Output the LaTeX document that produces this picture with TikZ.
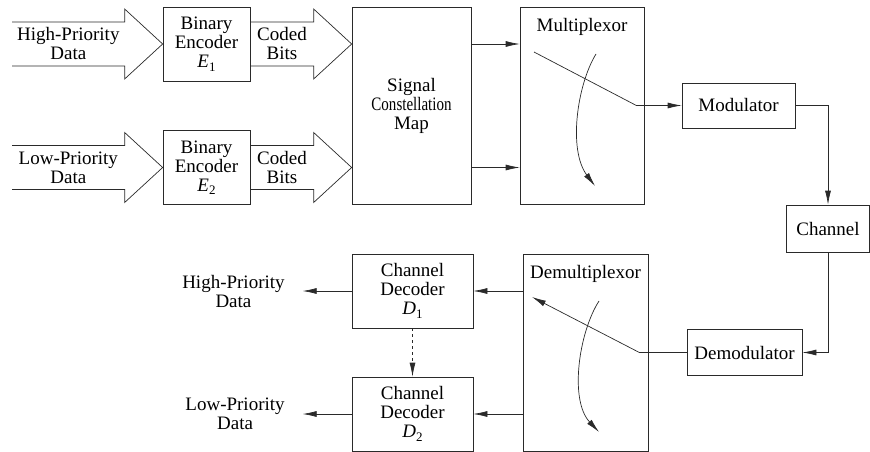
\documentclass[tikz,border=0pt]{standalone}
\usepackage{fontspec}
\setmainfont{LiberationSerif}[Extension=.ttf, UprightFont=*-Regular,
	ItalicFont=*-Italic, BoldFont=*-Bold, BoldItalicFont=*-BoldItalic]
\usetikzlibrary{arrows.meta, positioning, calc}
\definecolor{lineg}{HTML}{2A2A2A}
\tikzset{
	blk/.style={draw=lineg, line width=0.7pt, align=center,
		font=\rmfamily\fontsize{19}{19}\selectfont, inner sep=2pt},
	lbl/.style={align=center, font=\rmfamily\fontsize{19}{19}\selectfont, inner sep=0pt},
	outlbl/.style={lbl, inner xsep=18pt, outer sep=0pt},
	arr/.style={-{Latex[length=14pt, width=6pt]}, line width=0.7pt, draw=lineg},
	fatline/.style={line width=0.7pt, draw=lineg, line join=miter}
}
\newcommand{\sub}[2]{\textit{#1}\raisebox{-0.4ex}{\fontsize{13}{13}\selectfont #2}}
% hollow block arrow from tail #1 to tip #2, text #3 on the shaft
\newcommand{\fatarrow}[3]{%
	\draw[fatline] ($(#1)+(0,-22)$) -- ($(#2)+(-38,-22)$) -- ($(#2)+(-38,-35)$) -- (#2)
		-- ($(#2)+(-38,35)$) -- ($(#2)+(-38,22)$) -- ($(#1)+(0,22)$);
	\path (#1) -- ($(#2)+(-38,0)$) node[midway, lbl] {#3};}

\begin{document}
\begin{tikzpicture}[x=1pt, y=-1pt]
	\useasboundingbox (0,0) rectangle (870,452);
	% transmitter
	\node[blk, minimum width=87pt, minimum height=74pt] (encH) at (206.5,44) {Binary\\Encoder\\\sub{E}{1}};
	\node[blk, minimum width=87pt, minimum height=74pt] (encL) at (206.5,167.5) {Binary\\Encoder\\\sub{E}{2}};
	\node[blk, minimum width=119pt, minimum height=197pt] (map) at (411.5,105.5)
		{Signal\\\scalebox{0.79}[1]{Constellation}\\Map};
	\node[blk, minimum width=124pt, minimum height=197pt,
		label={[lbl, anchor=north, yshift=-11pt]north:Multiplexor}] (mux) at (582,105.5) {};
	\node[blk, minimum width=113pt, minimum height=45pt] (mod) at (738.5,105.5) {Modulator};
	\node[blk, minimum width=83pt, minimum height=47pt] (chan) at (828,228.5) {Channel};
	% receiver
	\node[blk, minimum width=115pt, minimum height=46pt] (demod) at (744.5,352.5) {Demodulator};
	\node[blk, minimum width=125pt, minimum height=197pt,
		label={[lbl, anchor=north, yshift=-11pt]north:Demultiplexor}] (demux) at (585.5,352.5) {};
	\node[blk, minimum width=121pt, minimum height=74pt] (decH) at (412.5,291) {Channel\\Decoder\\\sub{D}{1}};
	\node[blk, minimum width=121pt, minimum height=74pt] (decL) at (412.5,414) {Channel\\Decoder\\\sub{D}{2}};
	\node[outlbl, left=49pt of decH] (outH) {High-Priority\\Data};
	\node[outlbl, left=49pt of decL] (outL) {Low-Priority\\Data};

	\coordinate (inH) at (12,44);
	\coordinate (inL) at (12,167.5);
	\coordinate (tipH) at (map.west |- encH);
	\coordinate (tipL) at (map.west |- encL);
	\fatarrow{inH}{encH.west}{High-Priority\\Data}
	\fatarrow{inL}{encL.west}{Low-Priority\\Data}
	\fatarrow{encH.east}{tipH}{Coded\\Bits}
	\fatarrow{encL.east}{tipL}{Coded\\Bits}

	\draw[arr] (map.east |- encH) -- (mux.west |- encH);
	\draw[arr] (map.east |- encL) -- (mux.west |- encL);
	% switches
	\coordinate (swA) at (534,52);
	\coordinate (swB) at ($(mux.east)+(-8,0)$);
	\draw[line width=0.7pt, draw=lineg] (swA) -- (swB);
	\draw[arr] (swB) -- (mod.west);
	\draw[arr] (596,54) .. controls (577,85) and (568,150) .. (595,186);
	\draw[arr] (mod.east) -| (chan.north);
	\draw[arr] (chan.south) |- (demod.east);
	\coordinate (swC) at ($(demux.east)+(-9,0)$);
	\coordinate (swD) at (532,297);
	\draw[line width=0.7pt, draw=lineg] (demod.west) -- (swC);
	\draw[arr] (swC) -- (swD);
	\draw[arr] (599,301) .. controls (579,332) and (569,400) .. (599,432);
	\draw[arr] (demux.west |- decH) -- (decH.east);
	\draw[arr] (demux.west |- decL) -- (decL.east);
	\draw[arr] (decH.west) -- (outH.east);
	\draw[arr] (decL.west) -- (outL.east);
	\draw[arr, dashed] (decH.south) -- (decL.north);
\end{tikzpicture}
\end{document}
